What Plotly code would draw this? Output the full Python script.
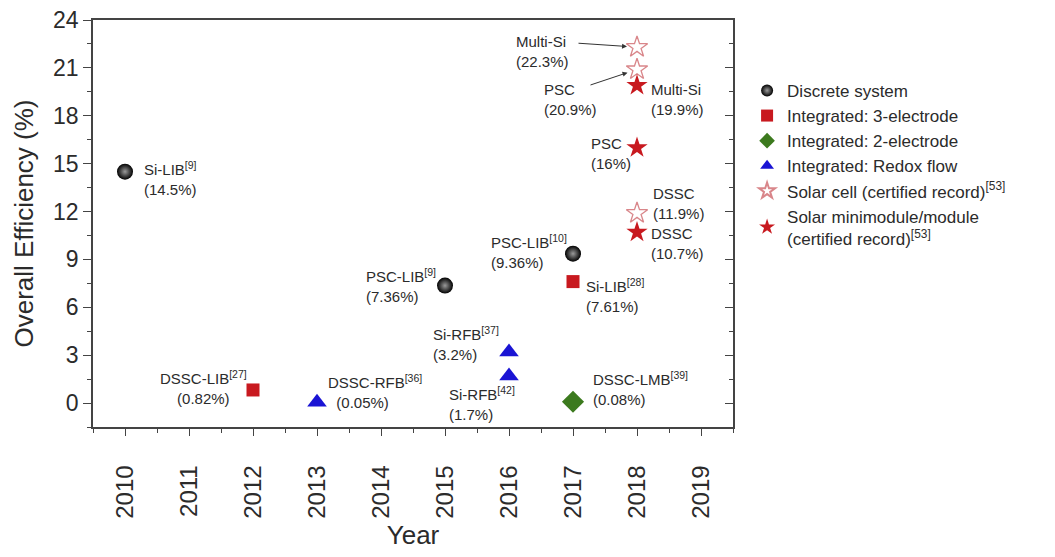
import plotly.graph_objects as go

# ---- data ----
discrete_year = [2010, 2015, 2017]
discrete_eff = [14.5, 7.36, 9.36]
three_year = [2012, 2017]
three_eff = [0.82, 7.61]
two_year = [2017]
two_eff = [0.08]
redox_year = [2013, 2016, 2016]
redox_eff = [0.05, 3.2, 1.7]
cell_year = [2018, 2018, 2018]
cell_eff = [22.3, 20.9, 11.9]
module_year = [2018, 2018, 2018]
module_eff = [19.9, 16.0, 10.7]
year_ticks = list(range(2010, 2020))
eff_ticks = [0, 3, 6, 9, 12, 15, 18, 21, 24]

# labels: (year, eff, text, xanchor, xshift, yshift)
labels = [
    (2010, 14.5, "Si-LIB<sup>[9]</sup><br>(14.5%)", "left", 17, -7),
    (2012, 0.82, "DSSC-LIB<sup>[27]</sup><br>(0.82%)", "center", -50, 2),
    (2013, 0.05, "DSSC-RFB<sup>[36]</sup><br>  (0.05%)", "left", 9, 11),
    (2015, 7.36, "PSC-LIB<sup>[9]</sup><br>(7.36%)", "right", -7, 0),
    (2017, 9.36, "PSC-LIB<sup>[10]</sup><br>(9.36%)", "right", -4, 2),
    (2017, 7.61, "Si-LIB<sup>[28]</sup><br>(7.61%)", "left", 11, -14),
    (2016, 3.2, "Si-RFB<sup>[37]</sup><br>(3.2%)", "right", -8, 8),
    (2016, 1.7, "Si-RFB<sup>[42]</sup><br>(1.7%)", "left", -62, -28),
    (2017, 0.08, "DSSC-LMB<sup>[39]</sup><br>(0.08%)", "left", 18, 13),
    (2018, 22.3, "Multi-Si<br>(22.3%)", "left", -123, -4),
    (2018, 20.9, "PSC<br>(20.9%)", "left", -95, -30),
    (2018, 19.9, "Multi-Si<br>(19.9%)", "left", 12, -14),
    (2018, 16.0, "PSC<br>(16%)", "left", -48, -6),
    (2018, 11.9, "DSSC<br>(11.9%)", "left", 14, 10),
    (2018, 10.7, "DSSC<br>(10.7%)", "left", 12, -11),
]

# arrows: (year, eff, ax, ay)
arrows = [
    (2018, 22.3, -60, -4),
    (2018, 20.9, -48, 16),
]

FONT = "Liberation Sans, Arial, sans-serif"
TXT = "#2b2b2b"

fig = go.Figure()

fig.add_trace(go.Scatter(
    x=discrete_year, y=discrete_eff, mode="markers", name="Discrete system",
    marker=dict(symbol="circle", size=16, color="#000000",
                gradient=dict(type="radial", color="#9a9a9a"),
                line=dict(width=0))))
fig.add_trace(go.Scatter(
    x=three_year, y=three_eff, mode="markers", name="Integrated: 3-electrode",
    marker=dict(symbol="square", size=13, color="#c8191f", line=dict(width=0))))
fig.add_trace(go.Scatter(
    x=two_year, y=two_eff, mode="markers", name="Integrated: 2-electrode",
    marker=dict(symbol="diamond", size=17, color="#3c7a1e", line=dict(width=0))))
fig.add_trace(go.Scatter(
    x=redox_year, y=redox_eff, mode="markers", name="Integrated: Redox flow",
    marker=dict(symbol="triangle-up", size=17, color="#1a14d4", line=dict(width=0))))
fig.add_trace(go.Scatter(
    x=cell_year, y=cell_eff, mode="markers", name="Solar cell (certified record)<sup>[53]</sup>",
    marker=dict(symbol="star-open", size=16, color="#d9868a", line=dict(width=1.3))))
fig.add_trace(go.Scatter(
    x=module_year, y=module_eff, mode="markers",
    name="Solar minimodule/module<br>(certified record)<sup>[53]</sup>",
    marker=dict(symbol="star", size=16, color="#c8191f", line=dict(width=0))))

# dummy trace to activate right axis
fig.add_trace(go.Scatter(x=[2010], y=[0], yaxis="y2", mode="markers",
                         marker=dict(opacity=0), showlegend=False, hoverinfo="skip"))

for (xv, yv, t, xa, xs, ys) in labels:
    fig.add_annotation(x=xv, y=yv, text=t, showarrow=False, xanchor=xa, yanchor="middle",
                       xshift=xs, yshift=ys, align="left" if xa != "center" else "center",
                       font=dict(family=FONT, size=15, color=TXT))

for (xv, yv, axv, ayv) in arrows:
    fig.add_annotation(x=xv, y=yv, text="", showarrow=True, ax=axv, ay=ayv,
                       arrowhead=2, arrowsize=1, arrowwidth=1, arrowcolor="#333333",
                       standoff=10)

fig.update_layout(
    width=1055, height=557,
    margin=dict(l=85, r=330, t=12, b=138, autoexpand=False),
    plot_bgcolor="white", paper_bgcolor="white",
    font=dict(family=FONT, color=TXT),
    showlegend=True,
    legend=dict(x=1.022, y=0.87, xanchor="left", yanchor="top",
                font=dict(family=FONT, size=17, color=TXT),
                bgcolor="rgba(0,0,0,0)", tracegroupgap=0, itemsizing="constant"),
    xaxis=dict(range=[2009.5, 2019.5], tickmode="array", tickvals=year_ticks,
               ticktext=[str(y) for y in year_ticks], tickangle=-90, automargin=False,
               ticks="outside", ticklen=7, tickwidth=1.2, tickcolor="#444",
               ticklabelstandoff=20, ticklabeloverflow="allow",
               showline=True, linecolor="#444", linewidth=1.5, mirror=True,
               showgrid=False, zeroline=False,
               minor=dict(dtick=0.5, tick0=2009.5, ticks="outside", ticklen=4,
                          tickcolor="#444", tickwidth=1),
               tickfont=dict(family=FONT, size=24, color=TXT),
               title=dict(text="Year", font=dict(family=FONT, size=26, color=TXT), standoff=8)),
    yaxis=dict(range=[-1.5, 24], tickmode="array", tickvals=eff_ticks, automargin=False,
               ticks="outside", ticklen=8, tickwidth=1.2, tickcolor="#444",
               ticklabeloverflow="allow",
               showline=True, linecolor="#444", linewidth=1.5, mirror=True,
               showgrid=False, zeroline=False,
               minor=dict(dtick=1.5, tick0=0, ticks="outside", ticklen=4,
                          tickcolor="#444", tickwidth=1),
               tickfont=dict(family=FONT, size=23, color=TXT),
               title=dict(text="Overall Efficiency (%)", font=dict(family=FONT, size=26, color=TXT),
                          standoff=12)),
    yaxis2=dict(range=[-1.5, 24], overlaying="y", side="right", anchor="x", automargin=False,
                tickmode="array", tickvals=eff_ticks, showticklabels=False,
                ticks="inside", ticklen=8, tickwidth=1.2, tickcolor="#444",
                showgrid=False, zeroline=False, showline=False,
                minor=dict(dtick=1.5, tick0=0, ticks="inside", ticklen=4,
                           tickcolor="#444", tickwidth=1)),
)

fig.write_html("out.html")
